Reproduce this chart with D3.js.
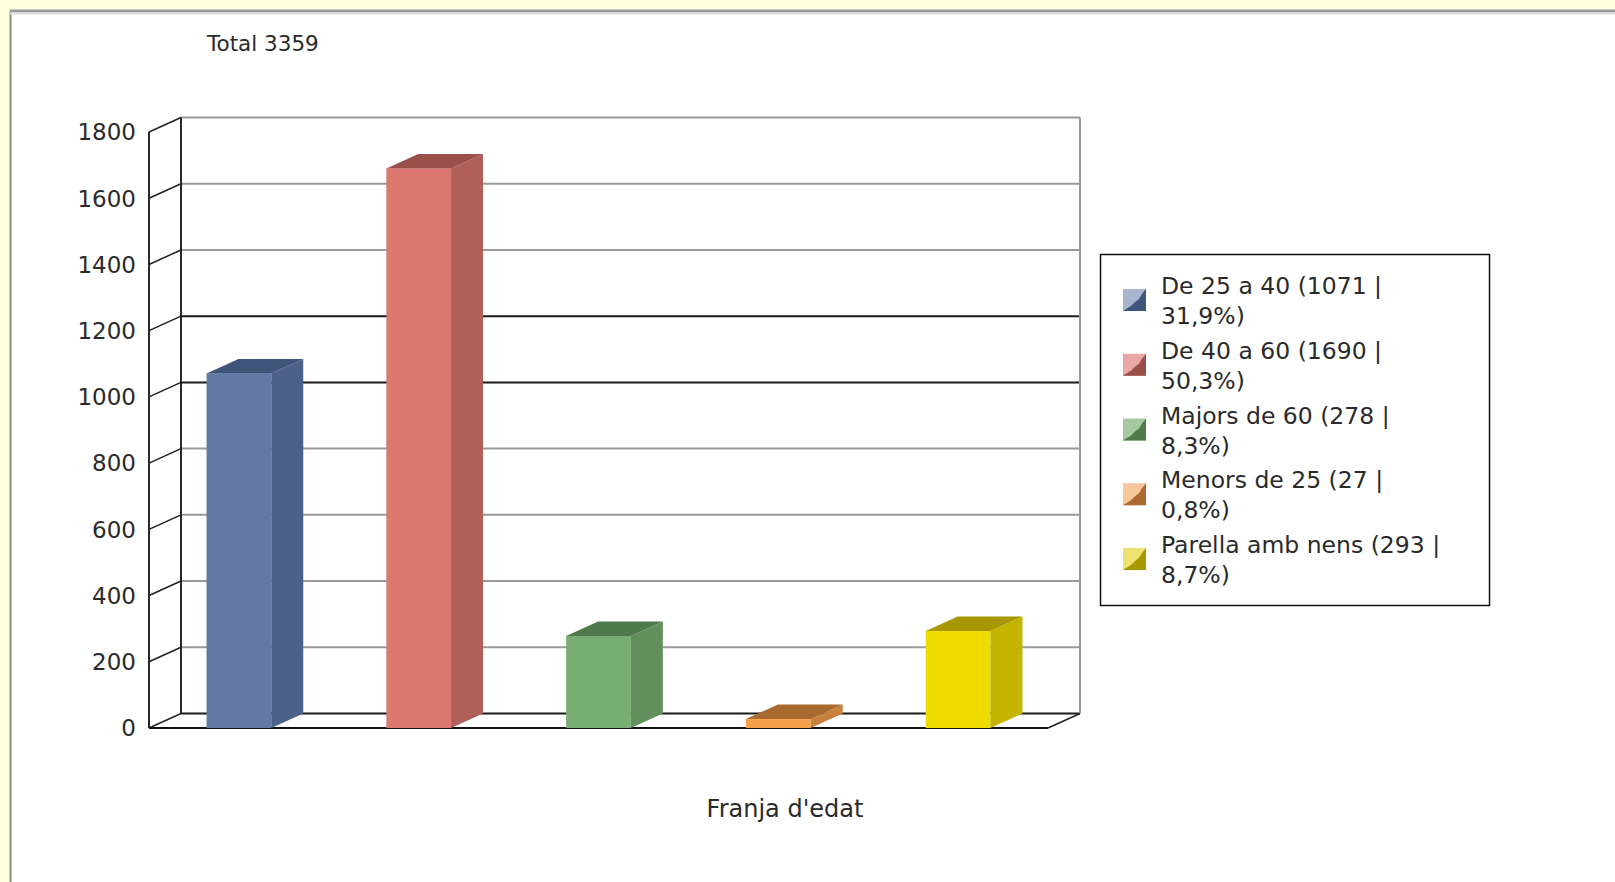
<!DOCTYPE html>
<html>
<head>
<meta charset="utf-8">
<script src="https://cdn.jsdelivr.net/npm/d3@7"></script>
<style>
  html, body { margin: 0; padding: 0; background: #FFFFDE; }
  svg { display: block; }
  text { font-family: "DejaVu Sans", sans-serif; fill: #2a2a2a; }
</style>
</head>
<body>
<svg id="chart" width="1615" height="882"></svg>
<script>
// ---- data ----
const categories = ["De 25 a 40", "De 40 a 60", "Majors de 60", "Menors de 25", "Parella amb nens"];
const values = [1071, 1690, 278, 27, 293];
const percents = ["31,9%", "50,3%", "8,3%", "0,8%", "8,7%"];
const yTicks = [0, 200, 400, 600, 800, 1000, 1200, 1400, 1600, 1800];
const totalLabel = "Total 3359";
const xTitle = "Franja d'edat";
const frontColors = ["#6279A6", "#DC786F", "#78AD71", "#F7A04C", "#EEDB00"];
const sideColors  = ["#4C6189", "#B05F59", "#638F5D", "#C9803A", "#C4B400"];
const topColors   = ["#3F5479", "#9A4F4A", "#4F7A4B", "#A86A2E", "#A89800"];
const swatchLight = ["#A9B5CF", "#E8A8A6", "#A6C9A2", "#F8C69A", "#EEE170"];
const swatchDark  = ["#3F5479", "#9A4F4A", "#4F7A4B", "#A86A2E", "#A89800"];

const svg = d3.select("#chart");

// page frame
svg.append("rect").attr("x", 11).attr("y", 12).attr("width", 1604).attr("height", 870).attr("fill", "#FFFFFF");
svg.append("line").attr("x1", 10.5).attr("x2", 10.5).attr("y1", 11).attr("y2", 882).attr("stroke", "#8a8a8a").attr("stroke-width", 2);
svg.append("line").attr("x1", 10).attr("x2", 1615).attr("y1", 11).attr("y2", 11).attr("stroke", "#9a9a9a").attr("stroke-width", 3);
svg.append("line").attr("x1", 10).attr("x2", 1615).attr("y1", 13.5).attr("y2", 13.5).attr("stroke", "#dddddd").attr("stroke-width", 2);

// ---- geometry ----
const dx = 32, dy = 14.5;
const x = d3.scaleBand().domain(categories).range([149, 1048]).paddingInner(0.64).paddingOuter(0.32);
const y = d3.scaleLinear().domain([0, 1800]).range([728, 132]);
const x0 = 149, x1 = 1048;

// back wall gridlines
const darkTicks = new Set([0, 1000, 1200]);
svg.append("g").selectAll("line").data(yTicks).join("line")
  .attr("x1", x0 + dx).attr("x2", x1 + dx)
  .attr("y1", d => y(d) - dy).attr("y2", d => y(d) - dy)
  .attr("stroke", d => darkTicks.has(d) ? "#1a1a1a" : "#9a9a9a")
  .attr("stroke-width", 2);

// back wall edges
svg.append("line").attr("x1", x0 + dx).attr("x2", x0 + dx).attr("y1", y(1800) - dy).attr("y2", y(0) - dy)
  .attr("stroke", "#111").attr("stroke-width", 1.8);
svg.append("line").attr("x1", x1 + dx).attr("x2", x1 + dx).attr("y1", y(1800) - dy).attr("y2", y(0) - dy)
  .attr("stroke", "#9a9a9a").attr("stroke-width", 2);

// left side wall: front axis + diagonal ticks
svg.append("line").attr("x1", x0).attr("x2", x0).attr("y1", y(1800)).attr("y2", y(0))
  .attr("stroke", "#111").attr("stroke-width", 1.8);
svg.append("g").selectAll("line").data(yTicks).join("line")
  .attr("x1", x0).attr("x2", x0 + dx)
  .attr("y1", d => y(d)).attr("y2", d => y(d) - dy)
  .attr("stroke", "#222").attr("stroke-width", 1.5);

// floor
svg.append("line").attr("x1", x0).attr("x2", x1).attr("y1", y(0)).attr("y2", y(0))
  .attr("stroke", "#111").attr("stroke-width", 1.8);
svg.append("line").attr("x1", x1).attr("x2", x1 + dx).attr("y1", y(0)).attr("y2", y(0) - dy)
  .attr("stroke", "#222").attr("stroke-width", 1.5);

// y tick labels
svg.append("g").selectAll("text").data(yTicks).join("text")
  .attr("x", 136).attr("y", d => y(d)).attr("dy", "0.36em")
  .attr("text-anchor", "end").attr("font-size", 23)
  .text(d => d);

// bars
const bars = svg.append("g").selectAll("g").data(categories).join("g");
bars.append("rect")
  .attr("x", d => x(d)).attr("width", x.bandwidth())
  .attr("y", (d, i) => y(values[i])).attr("height", (d, i) => y(0) - y(values[i]))
  .attr("fill", (d, i) => frontColors[i]);
bars.append("polygon")
  .attr("points", (d, i) => {
    const r = x(d) + x.bandwidth(), t = y(values[i]), b = y(0);
    return [[r, t], [r + dx, t - dy], [r + dx, b - dy], [r, b]].join(" ");
  })
  .attr("fill", (d, i) => sideColors[i]);
bars.append("polygon")
  .attr("points", (d, i) => {
    const l = x(d), r = x(d) + x.bandwidth(), t = y(values[i]);
    return [[l, t], [l + dx, t - dy], [r + dx, t - dy], [r, t]].join(" ");
  })
  .attr("fill", (d, i) => topColors[i]);

// titles
svg.append("text").attr("x", 207).attr("y", 51).attr("font-size", 21.5).text(totalLabel);
svg.append("text").attr("x", 785).attr("y", 817).attr("text-anchor", "middle").attr("font-size", 24).text(xTitle);

// legend
svg.append("rect").attr("x", 1100.5).attr("y", 254.5).attr("width", 389).attr("height", 351)
  .attr("fill", "#fff").attr("stroke", "#111").attr("stroke-width", 1.5);
const pitch = 64.75;
const leg = svg.append("g").selectAll("g").data(categories).join("g")
  .attr("transform", (d, i) => `translate(0,${294 + i * pitch})`);
leg.append("rect").attr("x", 1123).attr("y", -5).attr("width", 23).attr("height", 22)
  .attr("fill", (d, i) => swatchLight[i]);
leg.append("polygon")
  .attr("points", "1123,17 1131,12 1135,8 1139,5 1142,0 1146,-5 1146,17")
  .attr("fill", (d, i) => swatchDark[i]);
leg.append("text").attr("x", 1161).attr("y", 0).attr("font-size", 23.5)
  .text((d, i) => `${d} (${values[i]} |`);
leg.append("text").attr("x", 1161).attr("y", 30).attr("font-size", 23.5)
  .text((d, i) => `${percents[i]})`);
</script>
</body>
</html>
